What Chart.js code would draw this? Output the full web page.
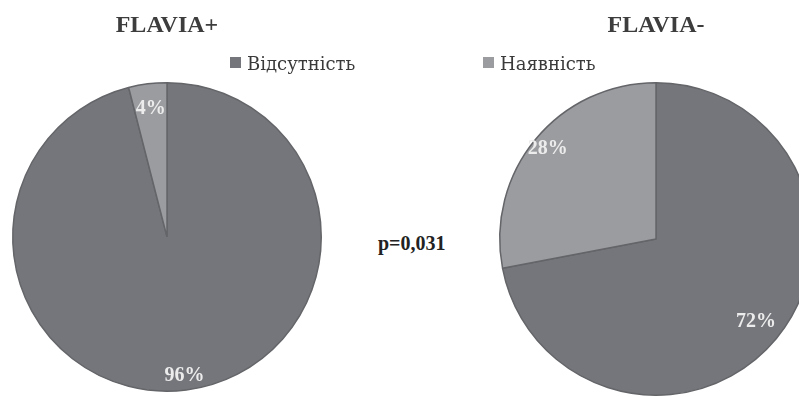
<!DOCTYPE html>
<html lang="uk">
<head>
<meta charset="utf-8">
<title>FLAVIA+ / FLAVIA-</title>
<script src="https://cdn.jsdelivr.net/npm/chart.js@4/dist/chart.umd.min.js"></script>
<style>
  html, body { margin: 0; padding: 0; background: #ffffff; }
  body { width: 799px; height: 397px; position: relative; overflow: hidden; }
  .pie { position: absolute; top: 0; width: 334px; height: 397px; }
  #pieLeft { left: 0; }
  #pieRight { left: 489px; }
  /* Cyrillic legend text: DejaVu Serif carries the Cyrillic glyphs */
  .legend-item { position: absolute; display: flex; align-items: center; font-family: 'DejaVu Serif', serif; font-size: 18px; line-height: 18px; color: #3a3a3a; white-space: nowrap; }
  .legend-item .swatch { width: 11px; height: 11px; margin-right: 6px; margin-top: -3px; }
  #pvalue { position: absolute; left: 378px; top: 233px; font-family: 'Liberation Serif', serif; font-size: 20px; line-height: 20px; font-weight: bold; color: #222222; }
</style>
</head>
<body>
<div class="pie" id="pieLeft"><canvas id="chartLeft"></canvas></div>
<div class="pie" id="pieRight"><canvas id="chartRight"></canvas></div>
<div id="legend"></div>
<div id="pvalue"></div>

<script>
// Categories and shares (%) for each group
const categories = ['Відсутність', 'Наявність'];
const flaviaPlus = [96, 4];
const flaviaMinus = [72, 28];
const groupTitles = ['FLAVIA+', 'FLAVIA-'];
const pValueText = 'p=0,031';

// Styling
const sliceColors = ['#75767b', '#9b9ca0'];
const sliceBorder = '#646569';
const labelRadiusLeft = [0.91, 0.84];
const labelRadiusRight = [0.83, 0.9];

// Draws "NN%" inside each slice at a fraction of the outer radius
const sliceLabels = {
  id: 'sliceLabels',
  afterDatasetsDraw(chart, args, opts) {
    const ctx = chart.ctx;
    const meta = chart.getDatasetMeta(0);
    const values = chart.data.datasets[0].data;
    ctx.save();
    ctx.font = 'bold 20px "Liberation Serif", serif';
    ctx.fillStyle = '#ececec';
    ctx.textAlign = 'center';
    ctx.textBaseline = 'middle';
    meta.data.forEach((arc, i) => {
      const p = arc.getProps(['x', 'y', 'startAngle', 'endAngle', 'outerRadius'], true);
      const mid = (p.startAngle + p.endAngle) / 2;
      const r = p.outerRadius * (opts.radius[i] || 0.85);
      ctx.fillText(values[i] + '%', p.x + Math.cos(mid) * r, p.y + Math.sin(mid) * r);
    });
    ctx.restore();
  }
};

function makePie(canvasId, title, values, labelRadius, padding) {
  return new Chart(document.getElementById(canvasId), {
    type: 'pie',
    data: {
      labels: categories,
      datasets: [{
        data: values,
        backgroundColor: sliceColors,
        borderColor: sliceBorder,
        borderWidth: 1.5
      }]
    },
    options: {
      responsive: true,
      maintainAspectRatio: false,
      animation: false,
      layout: { padding: padding },
      plugins: {
        legend: { display: false },
        tooltip: { enabled: false },
        title: {
          display: true,
          text: title,
          color: '#3d3d3d',
          font: { family: '"Liberation Serif", serif', size: 24, weight: 'bold', lineHeight: 1.2 },
          padding: { top: 11, bottom: 42 }
        },
        sliceLabels: { radius: labelRadius }
      }
    },
    plugins: [sliceLabels]
  });
}

const left = makePie('chartLeft', groupTitles[0], flaviaPlus, labelRadiusLeft,
  { left: 12, right: 12, top: 0, bottom: 5 });
makePie('chartRight', groupTitles[1], flaviaMinus, labelRadiusRight,
  { left: 10, right: 10, top: 0, bottom: 1 });

// Shared legend built from the chart's own legend items
const legendBox = document.getElementById('legend');
const legendSpots = [{ left: 230, top: 55 }, { left: 483, top: 55 }];
left.options.plugins.legend.labels.generateLabels(left).forEach((item, i) => {
  const el = document.createElement('div');
  el.className = 'legend-item';
  el.style.left = legendSpots[i].left + 'px';
  el.style.top = legendSpots[i].top + 'px';
  const sw = document.createElement('span');
  sw.className = 'swatch';
  sw.style.background = item.fillStyle;
  const tx = document.createElement('span');
  tx.textContent = item.text;
  el.appendChild(sw);
  el.appendChild(tx);
  legendBox.appendChild(el);
});

document.getElementById('pvalue').textContent = pValueText;
</script>
</body>
</html>
